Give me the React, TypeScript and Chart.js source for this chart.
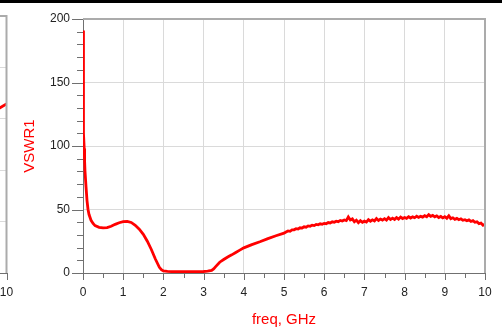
import { useEffect, useRef } from 'react';
import { Chart, registerables } from 'chart.js';

Chart.register(...registerables);

const FONT = "'Liberation Sans', Arial, Helvetica, sans-serif";

// main plot: VSWR1 vs freq (GHz)
const freqGHz = [
  0, 0.005, 0.01, 0.02, 0.03, 0.04, 0.05, 0.075, 0.1, 0.125, 0.15, 0.2, 0.25, 0.3, 0.4, 0.5,
  0.6, 0.7, 0.8, 0.9, 1.0, 1.1, 1.2, 1.3, 1.4, 1.5, 1.6, 1.7, 1.8, 1.9, 1.95, 2.0, 2.1, 2.2,
  2.4, 2.6, 2.8, 3.0, 3.1, 3.2, 3.25, 3.3, 3.4, 3.5, 3.6, 3.7, 3.8, 3.9, 4.0, 4.2, 4.4, 4.6,
  4.8, 5.0,
  5.05, 5.1, 5.15, 5.2, 5.25, 5.3, 5.35, 5.4, 5.45, 5.5, 5.55, 5.6, 5.65, 5.7, 5.75, 5.8, 5.85, 5.9, 5.95, 6.0,
  6.05, 6.1, 6.15, 6.2, 6.25, 6.3, 6.35, 6.4, 6.45, 6.5, 6.55, 6.6, 6.65, 6.7, 6.75, 6.8, 6.85, 6.9, 6.95, 7.0,
  7.05, 7.1, 7.15, 7.2, 7.25, 7.3, 7.35, 7.4, 7.45, 7.5, 7.55, 7.6, 7.65, 7.7, 7.75, 7.8, 7.85, 7.9, 7.95, 8.0,
  8.05, 8.1, 8.15, 8.2, 8.25, 8.3, 8.35, 8.4, 8.45, 8.5, 8.55, 8.6, 8.65, 8.7, 8.75, 8.8, 8.85, 8.9, 8.95, 9.0,
  9.05, 9.1, 9.15, 9.2, 9.25, 9.3, 9.35, 9.4, 9.45, 9.5, 9.55, 9.6, 9.65, 9.7, 9.75, 9.8, 9.85, 9.9, 9.95, 10.0,
];

const vswr1 = [
  191, 160, 124, 110, 98, 88, 80, 68, 57, 50, 46, 41.5, 39, 37.3, 36, 35.5,
  35.8, 36.8, 38.3, 39.6, 40.5, 40.7, 39.8, 37.6, 34.5, 30.5, 25, 18.5, 11, 4.5, 2.6, 1.6, 1.2, 1.1,
  1.0, 1.0, 1.1, 1.2, 1.4, 2.0, 3.2, 5, 8.5, 10.6, 12.6, 14.3, 16.2, 18, 19.8, 22.3, 24.6, 27.1,
  29.3, 31.4,
  32.3, 33.1, 32.8, 33.9, 34.0, 34.9, 34.6, 35.6, 35.4, 36.4, 36.1, 37.1, 36.8, 37.7, 37.3, 38.2, 37.9, 38.7, 38.3, 39.1,
  38.8, 39.7, 39.4, 40.3, 39.9, 40.8, 40.4, 41.4, 40.9, 41.8, 41.3, 44.2, 41.8, 42.6, 40.3, 41.6, 39.6, 41.2, 39.9, 40.8,
  40.1, 42.0, 40.8, 41.9, 41.0, 42.9, 41.4, 42.5, 41.7, 42.8, 41.6, 43.6, 42.1, 43.2, 42.2, 43.6, 42.4, 44.0, 42.9, 43.7,
  43.0, 44.3, 43.3, 44.2, 43.5, 44.7, 43.8, 44.6, 44.0, 45.1, 44.3, 46.0, 44.6, 45.3, 44.2, 45.0, 43.7, 44.5, 43.4, 44.3,
  43.1, 45.0, 42.8, 43.5, 42.3, 43.0, 42.0, 42.7, 41.5, 42.0, 41.1, 41.8, 40.6, 41.2, 39.9, 40.3, 38.9, 39.3, 37.6, 38.5,
];

// neighbouring plot (only its right edge is visible)
const leftFreq = [8.0, 8.5, 9.0, 9.6, 9.8, 10.0];
const leftValues = [2.3, 2.55, 2.8, 3.11, 3.2, 3.29];

const xRange = [0, 10];
const yRange = [0, 200];
const leftYRange = [0, 5];

const decor = {
  id: 'decor',
  afterDraw(chart: any, _args: any, opts: any) {
    const { ctx, chartArea: a, scales } = chart;
    const x = scales.x;
    const y = scales.y;
    ctx.save();
    ctx.strokeStyle = opts.tickColor;
    ctx.lineWidth = 1;
    // y ticks (outside, left)
    const nY = Math.round((y.max - y.min) / opts.yMinor);
    for (let i = 0; i <= nY; i++) {
      const v = y.min + i * opts.yMinor;
      const py = Math.round(y.getPixelForValue(v)) + 0.5;
      const major = i % opts.yMajorEvery === 0;
      const len = major ? opts.yMajorLen : opts.yMinorLen;
      ctx.beginPath();
      ctx.moveTo(a.left - len, py);
      ctx.lineTo(a.left, py);
      ctx.stroke();
    }
    // x ticks (outside, bottom)
    const nX = Math.round((x.max - x.min) / opts.xMinor);
    for (let i = 0; i <= nX; i++) {
      const v = x.min + i * opts.xMinor;
      const px = Math.round(x.getPixelForValue(v)) + 0.5;
      const major = i % opts.xMajorEvery === 0;
      const len = major ? opts.xMajorLen : opts.xMinorLen;
      ctx.beginPath();
      ctx.moveTo(px, a.bottom);
      ctx.lineTo(px, a.bottom + len);
      ctx.stroke();
    }
    // top and right frame
    ctx.strokeStyle = opts.frameColor;
    ctx.lineWidth = 2;
    ctx.beginPath();
    ctx.moveTo(a.left, a.top);
    ctx.lineTo(a.right, a.top);
    ctx.lineTo(a.right, a.bottom);
    ctx.stroke();
    ctx.restore();
  },
};

function makeOptions(cfg: any) {
  return {
    animation: false,
    responsive: false,
    maintainAspectRatio: false,
    events: [],
    layout: { padding: cfg.padding },
    elements: { point: { radius: 0 }, line: { tension: 0 } },
    plugins: {
      legend: { display: false },
      tooltip: { enabled: false },
      decor: cfg.decor,
    },
    scales: {
      x: {
        type: 'linear',
        min: xRange[0],
        max: xRange[1],
        ticks: {
          stepSize: 1,
          color: '#222',
          font: { family: FONT, size: 12 },
          padding: 12,
          maxRotation: 0,
          autoSkip: false,
        },
        grid: { color: '#dadada', lineWidth: 1, drawTicks: false },
        border: { color: '#707070', width: 1 },
        title: cfg.xTitle,
        afterFit: (s: any) => {
          s.height = 54;
          s.paddingLeft = 0;
          s.paddingRight = 0;
        },
      },
      y: {
        type: 'linear',
        min: cfg.yRange[0],
        max: cfg.yRange[1],
        ticks: {
          stepSize: cfg.yStep,
          display: cfg.yLabels,
          color: '#222',
          font: { family: FONT, size: 12 },
          padding: 13,
        },
        grid: { color: '#dadada', lineWidth: 1, drawTicks: false },
        border: { color: '#707070', width: 1 },
        title: cfg.yTitle,
        afterFit: (s: any) => {
          s.width = cfg.yWidth;
          s.paddingTop = 0;
          s.paddingBottom = 0;
        },
      },
    },
  } as any;
}

export default function App() {
  const mainRef = useRef<HTMLCanvasElement>(null);
  const leftRef = useRef<HTMLCanvasElement>(null);

  useEffect(() => {
    document.body.style.margin = '0';
    const main = new Chart(mainRef.current as HTMLCanvasElement, {
      type: 'line',
      data: {
        datasets: [
          {
            data: freqGHz.map((f, i) => ({ x: f, y: vswr1[i] })),
            borderColor: '#ff0000',
            borderWidth: 2.8,
            fill: false,
          },
        ],
      },
      options: makeOptions({
        padding: { top: 19, right: 17, left: 0, bottom: 0 },
        yRange,
        yStep: 50,
        yLabels: true,
        yWidth: 83,
        xTitle: {
          display: true,
          text: 'freq, GHz',
          color: '#ff0000',
          font: { family: FONT, size: 15, lineHeight: 1 },
          padding: { top: 0, bottom: 0 },
        },
        yTitle: {
          display: true,
          text: 'VSWR1',
          color: '#ff0000',
          font: { family: FONT, size: 15, lineHeight: 1 },
          padding: { top: 22.5, bottom: 0 },
        },
        decor: {
          tickColor: '#707070',
          frameColor: '#ababab',
          yMinor: 10,
          yMajorEvery: 5,
          yMajorLen: 11,
          yMinorLen: 6,
          xMinor: 0.5,
          xMajorEvery: 2,
          xMajorLen: 7,
          xMinorLen: 5,
        },
      }),
      plugins: [decor],
    });

    const left = new Chart(leftRef.current as HTMLCanvasElement, {
      type: 'line',
      data: {
        datasets: [
          {
            data: leftFreq.map((f, i) => ({ x: f, y: leftValues[i] })),
            borderColor: '#ff0000',
            borderWidth: 2.8,
            fill: false,
          },
        ],
      },
      options: makeOptions({
        padding: { top: 16, right: 13.5, left: 0, bottom: 0 },
        yRange: leftYRange,
        yStep: 1,
        yLabels: false,
        yWidth: 20,
        xTitle: { display: false },
        yTitle: { display: false },
        decor: {
          tickColor: '#707070',
          frameColor: '#ababab',
          yMinor: 1,
          yMajorEvery: 1,
          yMajorLen: 6,
          yMinorLen: 6,
          xMinor: 0.5,
          xMajorEvery: 2,
          xMajorLen: 7,
          xMinorLen: 5,
        },
      }),
      plugins: [decor],
    });

    return () => {
      main.destroy();
      left.destroy();
    };
  }, []);

  return (
    <div
      style={{
        position: 'relative',
        width: 502,
        height: 327,
        overflow: 'hidden',
        background: '#fff',
      }}
    >
      <canvas
        ref={leftRef}
        width={420}
        height={327}
        style={{ position: 'absolute', left: -400, top: 0, width: 420, height: 327 }}
      />
      <canvas
        ref={mainRef}
        width={502}
        height={327}
        style={{ position: 'absolute', left: 0, top: 0, width: 502, height: 327 }}
      />
      <div
        style={{
          position: 'absolute',
          left: 0,
          top: 0,
          width: 502,
          height: 3,
          background: '#000',
        }}
      />
    </div>
  );
}
